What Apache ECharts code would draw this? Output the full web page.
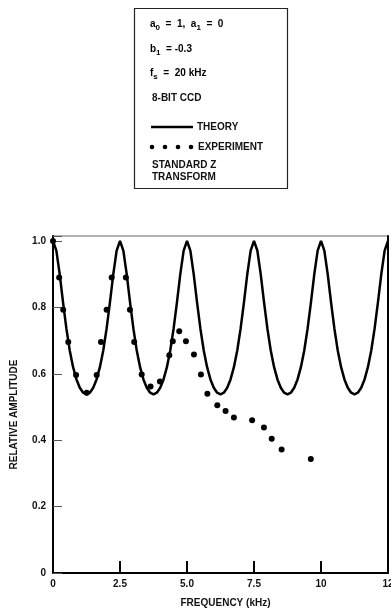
<!DOCTYPE html>
<html>
<head>
<meta charset="utf-8">
<script src="https://cdn.jsdelivr.net/npm/echarts@6/dist/echarts.min.js"></script>
<style>
  html, body { margin: 0; padding: 0; background: #fff; }
  #chart { width: 391px; height: 614px; }
</style>
</head>
<body>
<div id="chart"></div>
<script>
// theory curve, every 0.125 kHz
const theoryFreq = [
  0, 0.125, 0.25, 0.375, 0.5, 0.625, 0.75, 0.875, 1, 1.125, 1.25, 1.375, 1.5, 1.625, 1.75, 1.875, 2, 2.125, 2.25, 2.375,
  2.5, 2.625, 2.75, 2.875, 3, 3.125, 3.25, 3.375, 3.5, 3.625, 3.75, 3.875, 4, 4.125, 4.25, 4.375, 4.5, 4.625, 4.75, 4.875,
  5, 5.125, 5.25, 5.375, 5.5, 5.625, 5.75, 5.875, 6, 6.125, 6.25, 6.375, 6.5, 6.625, 6.75, 6.875, 7, 7.125, 7.25, 7.375,
  7.5, 7.625, 7.75, 7.875, 8, 8.125, 8.25, 8.375, 8.5, 8.625, 8.75, 8.875, 9, 9.125, 9.25, 9.375, 9.5, 9.625, 9.75, 9.875,
  10, 10.125, 10.25, 10.375, 10.5, 10.625, 10.75, 10.875, 11, 11.125, 11.25, 11.375, 11.5, 11.625, 11.75, 11.875, 12, 12.125, 12.25, 12.375,
  12.5
];
const theoryAmp = [
  1.000, 0.971, 0.900, 0.815, 0.736, 0.670, 0.620, 0.583, 0.558, 0.543, 0.538, 0.543, 0.558, 0.583, 0.620, 0.670, 0.736, 0.815, 0.900, 0.971,
  1.000, 0.971, 0.900, 0.815, 0.736, 0.670, 0.620, 0.583, 0.558, 0.543, 0.538, 0.543, 0.558, 0.583, 0.620, 0.670, 0.736, 0.815, 0.900, 0.971,
  1.000, 0.971, 0.900, 0.815, 0.736, 0.670, 0.620, 0.583, 0.558, 0.543, 0.538, 0.543, 0.558, 0.583, 0.620, 0.670, 0.736, 0.815, 0.900, 0.971,
  1.000, 0.971, 0.900, 0.815, 0.736, 0.670, 0.620, 0.583, 0.558, 0.543, 0.538, 0.543, 0.558, 0.583, 0.620, 0.670, 0.736, 0.815, 0.900, 0.971,
  1.000, 0.971, 0.900, 0.815, 0.736, 0.670, 0.620, 0.583, 0.558, 0.543, 0.538, 0.543, 0.558, 0.583, 0.620, 0.670, 0.736, 0.815, 0.900, 0.971,
  1.000
];

// measured points
const expFreq = [0, 0.23, 0.38, 0.57, 0.86, 1.26, 1.63, 1.79, 2.0, 2.19, 2.72, 2.87, 3.03, 3.31, 3.64, 3.99,
  4.34, 4.47, 4.71, 4.96, 5.26, 5.52, 5.76, 6.13, 6.44, 6.75, 7.43, 7.87, 8.16, 8.53, 9.62];
const expAmp = [1.0, 0.89, 0.793, 0.696, 0.596, 0.543, 0.596, 0.696, 0.793, 0.89, 0.89, 0.793, 0.696, 0.598, 0.562, 0.577,
  0.656, 0.698, 0.728, 0.698, 0.658, 0.598, 0.54, 0.505, 0.488, 0.468, 0.46, 0.438, 0.404, 0.372, 0.343];

const xTicks = {0: '0', 2.5: '2.5', 5: '5.0', 7.5: '7.5', 10: '10', 12.5: '12'};
const yTicks = {0: '0', 0.2: '0.2', 0.4: '0.4', 0.6: '0.6', 0.8: '0.8', 1: '1.0'};

const font = 'Liberation Sans';
const chart = echarts.init(document.getElementById('chart'));

function pairs(xs, ys) {
  return xs.map((x, i) => [x, ys[i]]);
}

function yLabel(v) {
  const k = Math.round(v * 10) / 10;
  return Math.abs(v - k) < 1e-6 && yTicks[k] !== undefined ? yTicks[k] : '';
}

const txt = {fontFamily: font, fontSize: 10, fontWeight: 'bold', fill: '#111'};
const rich = {
  t: {fontFamily: font, fontSize: 10, fontWeight: 'bold', lineHeight: 16, verticalAlign: 'middle', color: '#111'},
  s: {fontFamily: font, fontSize: 8, fontWeight: 'bold', lineHeight: 8, verticalAlign: 'bottom', color: '#111'}
};

function boxText(y, str) {
  return {type: 'text', left: 152, top: y - 5, style: Object.assign({text: str}, txt)};
}
function richText(y, str) {
  return {type: 'text', left: 150, top: y - 8, style: {text: str, rich: rich}};
}

let option = {
  animation: false,
  backgroundColor: '#fff',
  grid: {
    left: 53, right: 3, top: 236, bottom: 41,
    outerBoundsMode: 'none',
    show: true, borderColor: '#666', borderWidth: 1
  },
  xAxis: {
    type: 'value',
    min: 0,
    max: 12.5,
    interval: 2.5,
    name: 'FREQUENCY (kHz)',
    nameLocation: 'middle',
    nameGap: 25,
    nameTextStyle: {fontFamily: font, fontSize: 10, fontWeight: 'bold', color: '#111', padding: [0, 0, 0, 10]},
    axisLine: {lineStyle: {color: '#000', width: 2}},
    axisTick: {inside: true, length: 12, lineStyle: {color: '#000', width: 2}},
    axisLabel: {
      fontFamily: font, fontSize: 10, fontWeight: 'bold', color: '#111', margin: 6,
      formatter: v => xTicks[v] !== undefined ? xTicks[v] : ''
    },
    splitLine: {show: false}
  },
  yAxis: [
    {
      type: 'value',
      min: 0,
      max: 1.015,
      interval: 0.2,
      name: 'RELATIVE AMPLITUDE',
      nameLocation: 'middle',
      nameGap: 34,
      nameRotate: 90,
      nameTextStyle: {fontFamily: font, fontSize: 10, fontWeight: 'bold', color: '#111', padding: [0, 0, 0, -20]},
      axisLine: {lineStyle: {color: '#000', width: 2}},
      axisTick: {inside: true, length: 9, lineStyle: {color: '#555', width: 1}},
      axisLabel: {fontFamily: font, fontSize: 10, fontWeight: 'bold', color: '#111', margin: 7, formatter: yLabel},
      splitLine: {show: false}
    },
    {
      type: 'value',
      min: 0,
      max: 1.015,
      position: 'right',
      axisLine: {show: true, lineStyle: {color: '#000', width: 2}},
      axisTick: {show: false},
      axisLabel: {show: false},
      splitLine: {show: false}
    }
  ],
  graphic: [
    {type: 'rect', shape: {x: 134.5, y: 8.5, width: 153, height: 180}, style: {fill: '#fff', stroke: '#222', lineWidth: 1.2}},
    richText(27, '{t|a}{s|0}{t|  =  1,  a}{s|1}{t|  =  0}'),
    richText(52, '{t|b}{s|1}{t|  = -0.3}'),
    richText(76, '{t|f}{s|s}{t|  =  20 kHz}'),
    boxText(98, '8-BIT CCD'),
    {type: 'line', shape: {x1: 151, y1: 127, x2: 193, y2: 127}, style: {stroke: '#000', lineWidth: 2.5}},
    {type: 'text', left: 197, top: 122, style: Object.assign({text: 'THEORY'}, txt)},
    {type: 'circle', shape: {cx: 152, cy: 147, r: 2.3}, style: {fill: '#000'}},
    {type: 'circle', shape: {cx: 165, cy: 147, r: 2.3}, style: {fill: '#000'}},
    {type: 'circle', shape: {cx: 178, cy: 147, r: 2.3}, style: {fill: '#000'}},
    {type: 'circle', shape: {cx: 191, cy: 147, r: 2.3}, style: {fill: '#000'}},
    {type: 'text', left: 198, top: 142, style: Object.assign({text: 'EXPERIMENT'}, txt)},
    boxText(165, 'STANDARD Z'),
    boxText(177, 'TRANSFORM')
  ],
  series: [
    {
      name: 'THEORY',
      type: 'line',
      data: pairs(theoryFreq, theoryAmp),
      showSymbol: false,
      lineStyle: {color: '#000', width: 2.5},
      z: 2
    },
    {
      name: 'EXPERIMENT',
      type: 'scatter',
      data: pairs(expFreq, expAmp),
      symbol: 'circle',
      symbolSize: 6,
      itemStyle: {color: '#000', opacity: 1},
      z: 3
    }
  ]
};
chart.setOption(option);
</script>
</body>
</html>
